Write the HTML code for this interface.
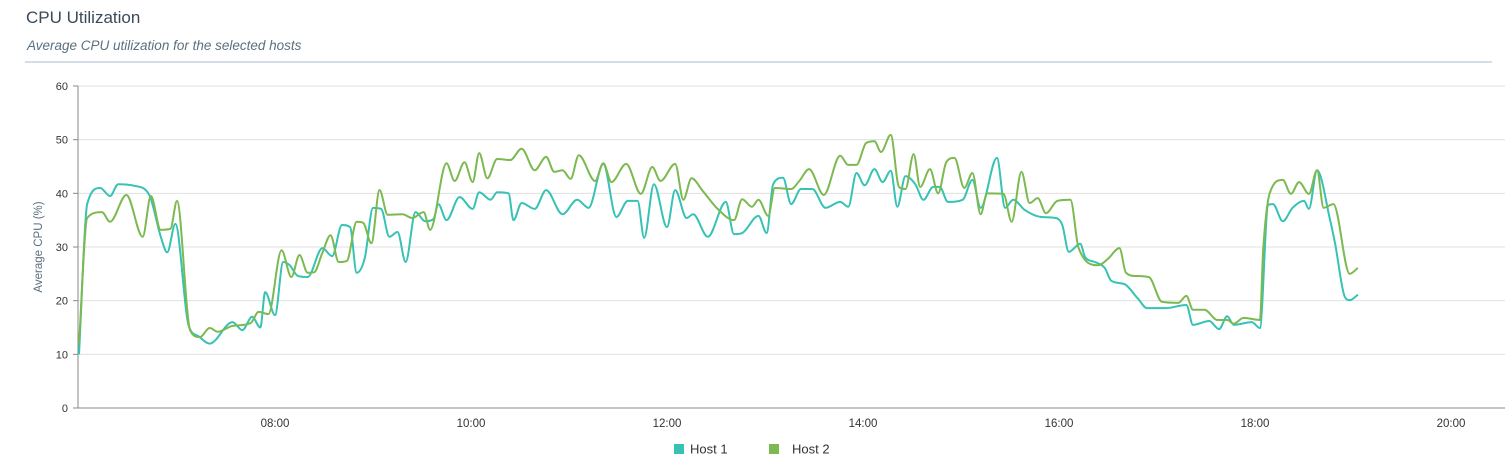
<!DOCTYPE html>
<html><head><meta charset="utf-8">
<style>
html,body{margin:0;padding:0;background:#fff;width:1512px;height:472px;overflow:hidden;font-family:"Liberation Sans",sans-serif;}
#title{position:absolute;left:26px;top:8px;font-size:17px;color:#3a4a5a;font-weight:normal;}
#subtitle{position:absolute;left:27px;top:38px;font-size:13.5px;font-style:italic;color:#5b7080;}
#divider{position:absolute;left:25px;top:61px;width:1467px;height:2px;background:#d3dee8;}
svg{position:absolute;left:0;top:0;}
</style></head>
<body>
<div id="title">CPU Utilization</div>
<div id="subtitle">Average CPU utilization for the selected hosts</div>
<div id="divider"></div>
<svg id="chart" width="1512" height="472"></svg>
<script>
// minutes since 06:00
const host1Times=[0,5,13,19,24,34,43,50,54,59,67,73,80,94,100,106,111,114,120,125,129,134,140,149,155,161,166,170,175,180,185,190,195,200,206,212,217,220,225,233,241,245,252,256,263,266,271,279,286,296,305,312,321,329,336,342,346,352,360,365,372,376,385,396,401,406,416,421,425,431,436,442,449,457,466,471,476,481,487,492,497,501,506,512,517,523,527,532,541,547,552,562,567,572,579,589,598,602,606,613,616,622,628,632,640,648,654,665,678,682,692,698,703,707,718,723,728,731,737,743,750,753,758,766,769,775,778,783];
const host1Values=[10,38,41,39.5,41.7,41.4,39.7,32,29,34.3,15.5,13.4,12,16,14.5,17,15,21.6,17.3,27.2,26.6,24.6,24.4,29.8,28.3,34.1,33.7,25.2,28,37.3,37.1,31.9,32.8,27.2,36.5,34.8,35.2,38,35,39.3,37.1,40.2,38.8,40.2,40,35,38.2,37.1,40.6,36.1,38.8,37.3,45.5,35.6,38.6,38.6,31.7,41.7,33.7,40.6,35.4,36.1,31.9,38.4,32.4,32.6,35.8,32.6,41.7,42.9,38,40.8,40.8,37.3,38.4,37.5,43.8,41.5,44.5,42.1,44.2,37.5,43.2,41.7,38.8,41.2,41.2,38.4,38.8,42.5,37.3,46.6,37.3,38.8,36.9,35.6,35.4,34.1,29.1,30.6,28.1,27.2,26.1,23.7,23.1,20.5,18.6,18.6,19.2,15.5,16.2,14.7,17.1,15.5,16,14.9,37.8,38,34.8,37.3,38.6,37.1,44.3,35,30.7,20.7,20.1,21.1];
const host2Times=[0,5,14,19,29,39,44,50,56,60,68,74,80,85,94,105,110,116,124,130,135,140,144,149,154,159,164,170,174,179,184,189,198,204,211,215,225,230,236,241,245,250,256,264,271,279,286,291,296,301,306,316,321,326,335,344,351,356,365,370,375,382,391,401,406,412,416,422,426,436,441,447,456,466,471,476,482,487,491,497,502,506,511,515,521,526,531,536,542,547,552,556,566,571,577,582,587,592,599,607,612,624,630,637,641,647,655,663,673,678,682,689,697,703,707,713,723,725,729,737,742,747,753,758,762,768,778,783];
const host2Values=[12,35.4,36.5,34.7,39.7,31.9,39.5,33.2,33.4,38.6,14.5,13.2,14.9,14.2,15.3,15.8,17.9,17.5,29.4,24.4,28.5,25.2,25.3,28.9,32.2,27.2,27.4,34.7,34.5,30.7,40.6,36,36.1,35.4,36.5,33.2,45.6,42.3,45.8,42.1,47.5,42.8,46.4,46.2,48.3,44.3,46.8,44,44.3,42.7,47.1,42.3,45.6,42.1,45.5,39.9,44.9,42.3,45.5,38.8,42.8,40.4,37.1,35,38.9,37.5,38.8,35.8,41,40.8,42.3,44.5,39.7,47,45.3,45.3,49.4,49.7,47.7,50.9,41.2,40.8,47.3,41.2,44.5,40,45.8,46.6,41,43.8,36.1,40,39.9,34.7,44,38.2,39.1,36.3,38.6,38.8,29.8,26.6,27.8,29.8,25.2,24.6,24.4,19.8,19.6,20.9,18.3,18.3,16.4,16.4,15.7,16.8,16.4,29.4,40,42.5,39.9,42.1,39.9,44.3,37.3,38,25,26.1];
const yTicks=[0,10,20,30,40,50,60];
const xTickHours=[8,10,12,14,16,18,20];
const xTickLabels=["08:00","10:00","12:00","14:00","16:00","18:00","20:00"];

const NS="http://www.w3.org/2000/svg";
const svg=document.getElementById('chart');
const L=78,R=1505,T=86,B=408;
const xs=m=>79+m/60*98;
const ys=v=>B-v*(B-T)/60;
function mk(tag,attrs){const e=document.createElementNS(NS,tag);for(const k in attrs)e.setAttribute(k,attrs[k]);svg.appendChild(e);return e;}

yTicks.forEach(v=>{
  if(v>0){const g=mk('line',{x1:L,x2:R,y1:ys(v),y2:ys(v),stroke:'#e0e0e0','stroke-width':1});
  
  }
  const tk=mk('line',{x1:L-5,x2:L,y1:ys(v),y2:ys(v),stroke:'#888','stroke-width':1});
  
  
  const t=mk('text',{x:L-10,y:ys(v)+4,'text-anchor':'end','font-size':11,fill:'#333','font-family':'Liberation Sans, sans-serif'});
  t.textContent=v;
  
  
});
const ya=mk('line',{x1:L,x2:L,y1:T,y2:B,stroke:'#888','stroke-width':1});


const xa=mk('line',{x1:L,x2:R,y1:B,y2:B,stroke:'#888','stroke-width':1});


xTickHours.forEach((h,i)=>{
  const x=xs((h-6)*60);
  const t=mk('text',{x:x,y:427,'text-anchor':'middle','font-size':11.5,fill:'#333','font-family':'Liberation Sans, sans-serif'});
  t.textContent=xTickLabels[i];
  
  
});
const yt=mk('text',{x:0,y:0,transform:'translate(42,247) rotate(-90)','text-anchor':'middle','font-size':11.5,fill:'#5b6f80','font-family':'Liberation Sans, sans-serif'});
yt.textContent='Average CPU (%)';



function monotonePath(px,py){
  const n=px.length,d=[],m=[];
  for(let i=0;i<n-1;i++)d.push((py[i+1]-py[i])/(px[i+1]-px[i]));
  m[0]=d[0];m[n-1]=d[n-2];
  for(let i=1;i<n-1;i++){m[i]=(d[i-1]*d[i]<=0)?0:(d[i-1]+d[i])/2;}
  for(let i=0;i<n-1;i++){if(d[i]===0){m[i]=0;m[i+1]=0;continue;}const a=m[i]/d[i],b=m[i+1]/d[i],s=a*a+b*b;if(s>9){const t=3/Math.sqrt(s);m[i]=t*a*d[i];m[i+1]=t*b*d[i];}}
  let p='M'+px[0]+','+py[0];
  for(let i=0;i<n-1;i++){const h=(px[i+1]-px[i])/3;p+=' C'+(px[i]+h)+','+(py[i]+m[i]*h)+' '+(px[i+1]-h)+','+(py[i+1]-m[i+1]*h)+' '+px[i+1]+','+py[i+1];}
  return p;
}
function series(times,vals,color,name){
  const p=mk('path',{d:monotonePath(times.map(xs),vals.map(ys)),fill:'none',stroke:color,'stroke-width':2,'stroke-linejoin':'round'});
  
  
}
series(host1Times,host1Values,'#36c2b4','host-1-line');
series(host2Times,host2Values,'#7cb950','host-2-line');

function legend(x,tx,color,label,name){
  const r=mk('rect',{x:x,y:444,width:10,height:10,fill:color});
  
  
  const t=mk('text',{x:tx,y:453.5,'font-size':13,fill:'#333','font-family':'Liberation Sans, sans-serif'});
  t.textContent=label;
  
  
}
legend(674,690,'#36c2b4','Host 1','legend-host-1');
legend(769,792,'#7cb950','Host 2','legend-host-2');
</script>
</body></html>
